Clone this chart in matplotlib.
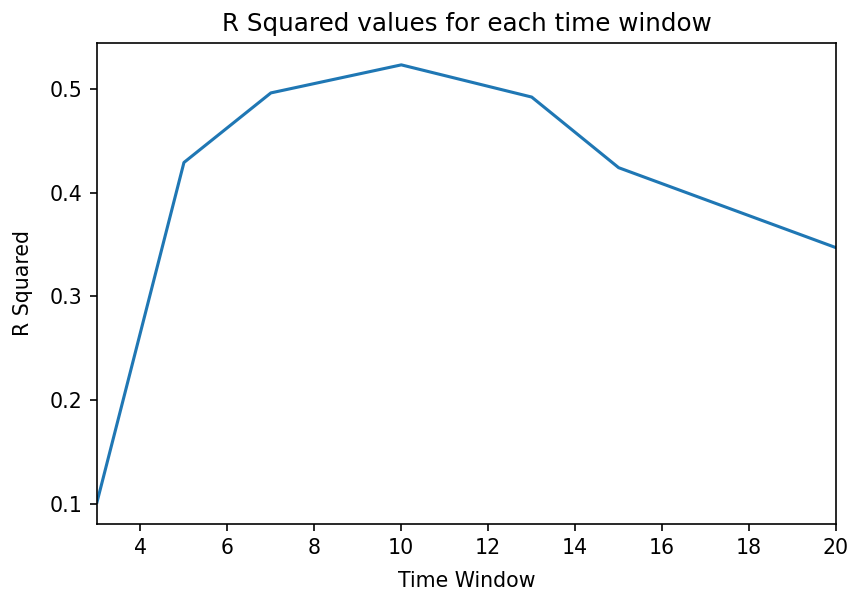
import matplotlib
matplotlib.use("Agg")
import matplotlib.pyplot as plt

# time window lengths and the R squared for each
time_windows = [3, 5, 7, 10, 13, 15, 20]
r_squared = [0.102, 0.429, 0.496, 0.523, 0.492, 0.424, 0.347]

fig = plt.figure(figsize=(851 / 148, 599 / 148), dpi=148)
ax = fig.add_axes([97 / 851, 1 - 524 / 599, (836 - 97) / 851, (524 - 43) / 599])

ax.plot(time_windows, r_squared, color="#1f77b4", linewidth=1.5)
ax.set_xlim(3, 20)
ax.set_xticks([4, 6, 8, 10, 12, 14, 16, 18, 20])
ax.set_yticks([0.1, 0.2, 0.3, 0.4, 0.5])
ax.set_title("R Squared values for each time window")
ax.set_xlabel("Time Window", labelpad=6)
ax.set_ylabel("R Squared", labelpad=8)

fig.savefig("out.png", dpi=148)
